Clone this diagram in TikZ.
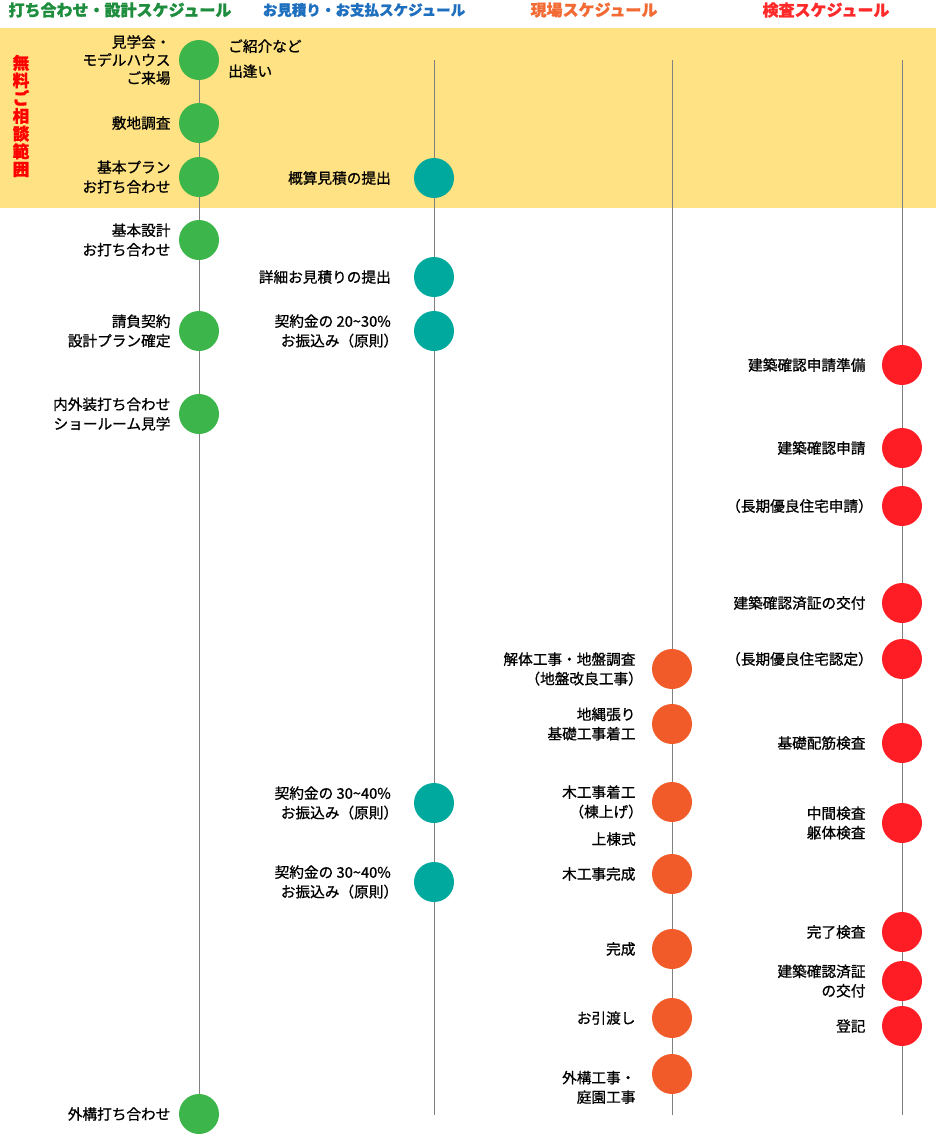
\documentclass[tikz,border=0pt]{standalone}
\usepackage{fontspec}
\setmainfont{Noto Sans CJK JP}[RawFeature={embolden=0.9}]
\usetikzlibrary{positioning, backgrounds}

\definecolor{cgreen}{HTML}{3CB54A}
\definecolor{cteal}{HTML}{00A99D}
\definecolor{corange}{HTML}{F15A29}
\definecolor{cred}{HTML}{FF1D25}
\definecolor{cband}{HTML}{FFE283}
\definecolor{cline}{HTML}{808080}
\definecolor{hgreen}{HTML}{1E8E3E}
\definecolor{hblue}{HTML}{1F6FBF}
\definecolor{horange}{HTML}{F26B35}
\definecolor{hred}{HTML}{FF2A2A}

% closing paren without its trailing blank
\newcommand{\cpar}{）\kern-.5em}

\tikzset{
  dot/.style={circle, minimum size=30pt, inner sep=0pt},
  txt/.style={font=\fontsize{11}{14.6}\selectfont, align=right, inner sep=0pt},
  head/.style={font=\fontsize{12}{14}\selectfont\bfseries, inner sep=0pt},
  tl/.style={draw=cline, line width=0.75pt}
}

\begin{document}
\begin{tikzpicture}[x=0.75pt, y=-0.75pt]
  \useasboundingbox (0,0) rectangle (936,1135);

  % headers
  \node[head, text=hgreen] (h1) at (120,10) {打ち合わせ・設計スケジュール};
  \node[head, text=hblue, font=\fontsize{10.9}{14}\selectfont\bfseries]
    (h2) at (364,10) {お見積り・お支払スケジュール};
  \node[head, text=horange] (h3) at (594,10) {現場スケジュール};
  \node[head, text=hred] (h4) at (826,10) {検査スケジュール};

  \node[align=center, inner sep=0pt, text=red,
    font=\fontsize{12.5}{13.3}\selectfont\bfseries] (free) at (21,116)
    {無\\料\\ご\\相\\談\\範\\囲};

  % design
  \node[dot, fill=cgreen] (g1) at (199,60) {};
  \node[txt, font=\fontsize{11}{13.5}\selectfont, left=6pt of g1] (g1t)
    {見学会・\\モデルハウス\\ご来場};
  \node[txt, align=left, font=\fontsize{11}{18.75}\selectfont,
    right=6.5pt of g1, yshift=1pt] (g1r) {ご紹介など\\出逢い};
  \node[dot, fill=cgreen] (g2) at (199,123) {};
  \node[txt, left=6pt of g2] {敷地調査};
  \node[dot, fill=cgreen] (g3) at (199,177) {};
  \node[txt, left=6pt of g3] {基本プラン\\お打ち合わせ};
  \node[dot, fill=cgreen] (g4) at (199,240) {};
  \node[txt, left=6pt of g4] {基本設計\\お打ち合わせ};
  \node[dot, fill=cgreen] (g5) at (199,331) {};
  \node[txt, left=6pt of g5] {請負契約\\設計プラン確定};
  \node[dot, fill=cgreen] (g6) at (199,414) {};
  \node[txt, left=6pt of g6] {内外装打ち合わせ\\ショールーム見学};
  \node[dot, fill=cgreen] (g7) at (199,1114) {};
  \node[txt, left=6pt of g7] {外構打ち合わせ};

  % estimate / payment
  \coordinate (ttop) at (434,60);
  \coordinate (tbot) at (434,1115);
  \node[dot, fill=cteal] (t1) at (434,178) {};
  \node[txt, left=17pt of t1] {概算見積の提出};
  \node[dot, fill=cteal] (t2) at (434,277) {};
  \node[txt, left=17pt of t2] {詳細お見積りの提出};
  \node[dot, fill=cteal] (t3) at (434,331) {};
  \node[txt, left=17pt of t3] {契約金の 20\textasciitilde 30\%\\お振込み（原則\cpar};
  \node[dot, fill=cteal] (t4) at (434,803) {};
  \node[txt, left=17pt of t4] {契約金の 30\textasciitilde 40\%\\お振込み（原則\cpar};
  \node[dot, fill=cteal] (t5) at (434,882) {};
  \node[txt, left=17pt of t5] {契約金の 30\textasciitilde 40\%\\お振込み（原則\cpar};

  % site
  \coordinate (otop) at (672,60);
  \coordinate (obot) at (672,1115);
  \node[dot, fill=corange] (o1) at (672,669) {};
  \node[txt, left=12pt of o1] {解体工事・地盤調査\\（地盤改良工事\cpar};
  \node[dot, fill=corange] (o2) at (672,724) {};
  \node[txt, left=12pt of o2] {地縄張り\\基礎工事着工};
  \node[dot, fill=corange] (o3) at (672,802) {};
  \node[txt, left=12pt of o3] (o3t) {木工事着工\\（棟上げ\cpar};
  \node[txt, anchor=east] (o3s) at (636,839) {上棟式};
  \node[dot, fill=corange] (o4) at (672,874) {};
  \node[txt, left=12pt of o4] {木工事完成};
  \node[dot, fill=corange] (o5) at (672,949) {};
  \node[txt, left=12pt of o5] {完成};
  \node[dot, fill=corange] (o6) at (672,1018) {};
  \node[txt, left=12pt of o6] {お引渡し};
  \node[dot, fill=corange] (o7) at (672,1074) {};
  \node[txt, left=12pt of o7, yshift=-10pt] {外構工事・\\庭園工事};

  % inspection
  \coordinate (rtop) at (902,60);
  \coordinate (rbot) at (902,1115);
  \node[dot, fill=cred] (r1) at (902,365) {};
  \node[txt, left=12pt of r1] {建築確認申請準備};
  \node[dot, fill=cred] (r2) at (902,448) {};
  \node[txt, left=12pt of r2] {建築確認申請};
  \node[dot, fill=cred] (r3) at (902,506) {};
  \node[txt, left=12pt of r3] {（長期優良住宅申請\cpar};
  \node[dot, fill=cred] (r4) at (902,603) {};
  \node[txt, left=12pt of r4] {建築確認済証の交付};
  \node[dot, fill=cred] (r5) at (902,659) {};
  \node[txt, left=12pt of r5] {（長期優良住宅認定\cpar};
  \node[dot, fill=cred] (r6) at (902,743) {};
  \node[txt, left=12pt of r6] {基礎配筋検査};
  \node[dot, fill=cred] (r7) at (902,823) {};
  \node[txt, left=12pt of r7] {中間検査\\躯体検査};
  \node[dot, fill=cred] (r8) at (902,932) {};
  \node[txt, left=12pt of r8] {完了検査};
  \node[dot, fill=cred] (r9) at (902,981) {};
  \node[txt, left=12pt of r9] {建築確認済証\\の交付};
  \node[dot, fill=cred] (r10) at (902,1026) {};
  \node[txt, left=12pt of r10] {登記};

  \begin{scope}[on background layer]
    \fill[cband] (0,28) rectangle (936,208);
    \draw[tl] (g1) -- (g7);
    \draw[tl] (ttop) -- (tbot);
    \draw[tl] (otop) -- (obot);
    \draw[tl] (rtop) -- (rbot);
  \end{scope}
\end{tikzpicture}
\end{document}
